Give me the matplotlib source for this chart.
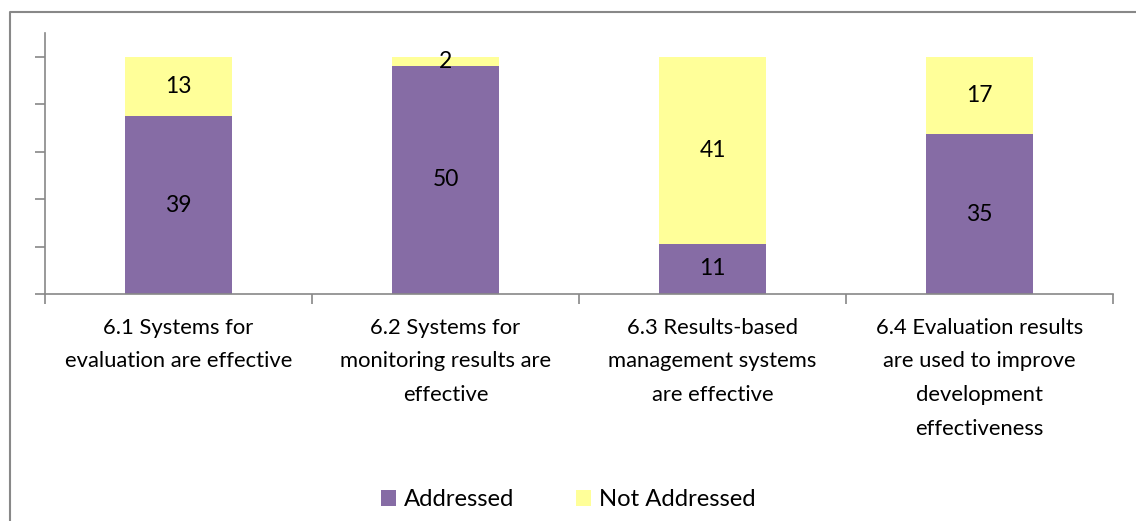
import matplotlib.pyplot as plt
import numpy as np
from matplotlib.lines import Line2D

plt.rcParams['font.family'] = ['Lato', 'DejaVu Sans']

# survey counts per item
categories = ["6.1 Systems for\nevaluation are effective",
              "6.2 Systems for\nmonitoring results are\neffective",
              "6.3 Results-based\nmanagement systems\nare effective",
              "6.4 Evaluation results\nare used to improve\ndevelopment\neffectiveness"]
addressed = [39, 50, 11, 35]
not_addressed = [13, 2, 41, 17]

purple = '#866ca5'
yellow = '#ffff99'
grey = '#888888'

W, H = 1136, 521
fig = plt.figure(figsize=(W / 100, H / 100), dpi=100)
# outer chart border (left and top only inside the canvas)
fig.lines.append(Line2D([9.5 / W, 9.5 / W, 1.0], [0.0, 1 - 11.5 / H, 1 - 11.5 / H],
                        transform=fig.transFigure, color=grey, lw=1.5))

ax = fig.add_axes([45 / W, 1 - 294 / H, (1113 - 45) / W, (294 - 33) / H])

add = np.array(addressed, float)
nad = np.array(not_addressed, float)
tot = add + nad
pa = add / tot * 100
pn = nad / tot * 100
x = np.arange(len(categories))

ax.bar(x, pa, width=0.4, color=purple, label='Addressed')
ax.bar(x, pn, width=0.4, bottom=pa, color=yellow, label='Not Addressed')

fs = 15.8
for i in range(len(x)):
    ax.text(x[i], pa[i] / 2, str(addressed[i]), ha='center', va='center', fontsize=16.5)
    ax.text(x[i], pa[i] + pn[i] / 2, str(not_addressed[i]), ha='center', va='center', fontsize=16.5)

ax.set_xlim(-0.5, len(x) - 0.5)
ax.set_ylim(0, 110)
ax.set_yticks(np.arange(0, 101, 20))
ax.set_yticklabels([])
ax.set_xticks(np.arange(-0.5, len(x), 1))
ax.set_xticklabels([])
ax.tick_params(axis='both', direction='out', length=7, color=grey, width=1.2)
for s in ['top', 'right']:
    ax.spines[s].set_visible(False)
for s in ['left', 'bottom']:
    ax.spines[s].set_color(grey)
    ax.spines[s].set_linewidth(1.2)

for i, c in enumerate(categories):
    ax.annotate(c, xy=(x[i], 0), xycoords=('data', 'axes fraction'),
                xytext=(0, -17), textcoords='offset points',
                ha='center', va='top', fontsize=fs, linespacing=1.86)

fig.legend(loc='center', bbox_to_anchor=(568 / W, 1 - 500 / H), ncol=2, frameon=False,
           fontsize=17.2, handlelength=0.65, handleheight=0.65, handletextpad=0.3,
           columnspacing=2.6)

fig.savefig('out.png', dpi=100)
